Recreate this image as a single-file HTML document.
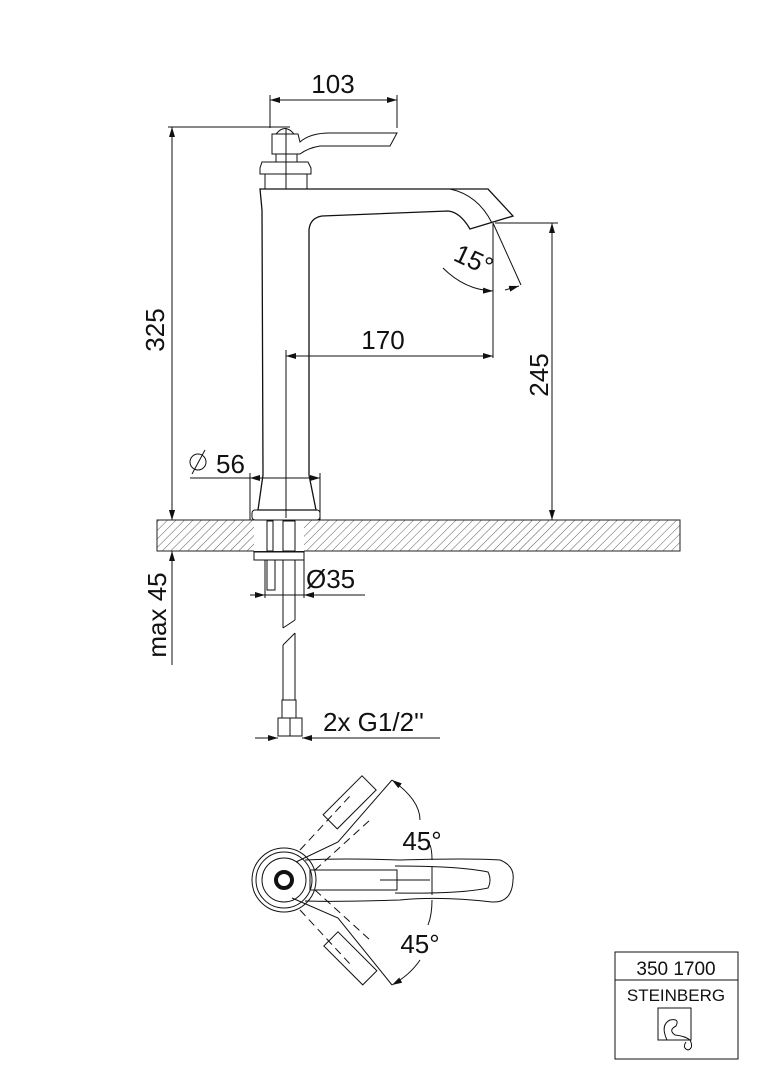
<!DOCTYPE html>
<html><head><meta charset="utf-8"><style>
html,body{margin:0;padding:0;background:#fff}
svg{display:block}
text{font-family:"Liberation Sans",sans-serif;fill:#111}
</style></head><body>
<svg width="764" height="1080" viewBox="0 0 764 1080" xmlns="http://www.w3.org/2000/svg">
<defs>
<pattern id="h" width="6" height="6" patternUnits="userSpaceOnUse" patternTransform="rotate(45)">
<line x1="0" y1="0" x2="0" y2="6" stroke="#333" stroke-width="0.8"/>
</pattern>
<marker id="a" viewBox="0 0 10 6" refX="10" refY="3" markerWidth="10" markerHeight="6" orient="auto-start-reverse" markerUnits="userSpaceOnUse">
<path d="M0,0 L10,3 L0,6z" fill="#111"/></marker>
</defs>
<g fill="none" stroke="#111" stroke-width="1">
<rect x="157" y="520" width="523" height="31" fill="url(#h)" stroke="#222"/>
<rect x="254" y="520" width="50" height="31" fill="#fff" stroke="none"/>
<line x1="270" y1="100" x2="397" y2="100" marker-start="url(#a)" marker-end="url(#a)"/>
<line x1="270" y1="95" x2="270" y2="128"/><line x1="397" y1="95" x2="397" y2="128"/>
<line x1="168" y1="127" x2="290" y2="127"/>
<line x1="172" y1="127" x2="172" y2="520" marker-start="url(#a)" marker-end="url(#a)"/>
<line x1="172" y1="500" x2="172" y2="520" marker-end="url(#a)"/>
<line x1="172" y1="571" x2="172" y2="551" marker-end="url(#a)"/>
<line x1="172" y1="551" x2="172" y2="665"/>
<path d="M276,134 Q285,123 294,134 Z"/>
<path d="M272,134 H298 L300,142 Q310,133 330,133 H397 L390,146 H320 Q308,148 300,154 H272 Z"/>
<rect x="276" y="154" width="21" height="8"/>
<path d="M262,162 H308 L311,168 V174 H260 V168 Z"/>
<rect x="265" y="174" width="42" height="15"/>
<line x1="286" y1="128" x2="286" y2="189"/>
<path d="M260,189 H488 L513,216 L470,229 Q460,212 448,211 L322,216 Q310,218 309,230 V475 L316,510 H258 L263,475 Q262,330 262,210 Z" stroke-width="1.3"/>
<path d="M450,189 Q478,195 492,223"/>
<rect x="252" y="510" width="68" height="10" rx="3"/>
<line x1="493" y1="223" x2="493" y2="358"/>
<line x1="493" y1="223" x2="521" y2="285"/>
<path d="M443,268 Q465,290 493,291" marker-end="url(#a)"/>
<path d="M505,290 L519,286" marker-end="url(#a)"/>
<line x1="286" y1="350" x2="286" y2="518"/>
<line x1="286" y1="356" x2="493" y2="356" marker-start="url(#a)" marker-end="url(#a)"/>
<line x1="495" y1="223" x2="558" y2="223"/>
<line x1="552" y1="223" x2="552" y2="520" marker-start="url(#a)" marker-end="url(#a)"/>
<line x1="190" y1="478" x2="250" y2="478"/>
<line x1="250" y1="478" x2="320" y2="478" marker-start="url(#a)" marker-end="url(#a)"/>
<line x1="250" y1="473" x2="250" y2="520"/><line x1="320" y1="473" x2="320" y2="520"/>
<circle cx="198" cy="462" r="8"/><line x1="192" y1="474" x2="205" y2="450"/>
<rect x="267" y="521" width="6" height="30"/><rect x="283" y="521" width="12" height="30"/>
<rect x="254" y="552" width="50" height="8"/>
<rect x="267" y="560" width="8" height="30"/>
<line x1="283" y1="560" x2="283" y2="628"/><line x1="295" y1="560" x2="295" y2="620"/>
<line x1="283" y1="628" x2="295" y2="620"/>
<line x1="283" y1="645" x2="295" y2="633"/>
<line x1="283" y1="645" x2="283" y2="700"/><line x1="295" y1="633" x2="295" y2="700"/>
<rect x="282" y="700" width="14" height="18"/>
<rect x="278" y="718" width="24" height="18"/>
<line x1="290" y1="718" x2="290" y2="736"/>
<line x1="265" y1="560" x2="265" y2="598"/><line x1="304" y1="560" x2="304" y2="598"/>
<line x1="265" y1="595" x2="365" y2="595"/>
<line x1="250" y1="595" x2="265" y2="595" marker-end="url(#a)"/>
<line x1="318" y1="595" x2="304" y2="595" marker-end="url(#a)"/>
<line x1="255" y1="738" x2="278" y2="738" marker-end="url(#a)"/>
<line x1="330" y1="738" x2="302" y2="738" marker-end="url(#a)"/>
<line x1="302" y1="738" x2="440" y2="738"/>
<circle cx="284" cy="880" r="32"/><circle cx="284" cy="880" r="28"/><circle cx="284" cy="880" r="22"/>
<circle cx="284" cy="880" r="8" stroke-width="4"/>
<path d="M305,860 Q340,858 400,860 Q470,858 500,860 Q515,866 513,880 Q512,903 492,902 Q440,896 400,900 Q340,902 305,901"/>
<path d="M395,866 Q460,866 488,872 Q492,880 488,888 Q460,894 395,893"/>
<rect x="310" y="870" width="87" height="20"/>
<line x1="380" y1="880" x2="430" y2="880"/>
<line x1="432" y1="866" x2="432" y2="895"/>
<path d="M296,862 L338,842 L392,780"/>
<path d="M292,898 L338,918 L392,985"/>
<path d="M300,850 L350,796 M315,870 L370,820" stroke-dasharray="8,5"/>
<path d="M300,910 L350,964 M315,890 L370,940" stroke-dasharray="8,5"/>
<rect x="340" y="775" width="20" height="55" transform="rotate(45 350 802)"/>
<rect x="340" y="931" width="20" height="55" transform="rotate(-45 350 958)"/>
<path d="M392,780 Q420,800 420,820" marker-start="url(#a)"/>
<path d="M432,860 Q432,850 430,845"/>
<path d="M420,960 Q410,975 392,985" marker-end="url(#a)"/>
<path d="M432,900 Q432,915 428,925"/>
<rect x="615" y="952" width="123" height="107"/>
<line x1="615" y1="980" x2="738" y2="980"/>
<rect x="658" y="1008" width="33" height="32"/>
<path d="M667,1040 Q660,1025 670,1020 Q680,1018 676,1026 Q668,1030 675,1035 Q685,1036 690,1040 Q694,1048 688,1050 Q682,1048 686,1042"/>
</g>
<text x="333" y="93" font-size="26" text-anchor="middle">103</text>
<text transform="translate(164,330) rotate(-90)" font-size="26" text-anchor="middle">325</text>
<text x="383" y="349" font-size="26" text-anchor="middle">170</text>
<text transform="translate(548,375) rotate(-90)" font-size="26" text-anchor="middle">245</text>
<text transform="translate(470,268) rotate(25)" font-size="26" text-anchor="middle">15°</text>
<text x="216" y="473" font-size="26">56</text>
<text x="306" y="588" font-size="26">Ø35</text>
<text transform="translate(166,615) rotate(-90)" font-size="26" text-anchor="middle">max 45</text>
<text x="323" y="731" font-size="26">2x G1/2''</text>
<text x="422" y="850" font-size="26" text-anchor="middle">45°</text>
<text x="420" y="953" font-size="26" text-anchor="middle">45°</text>
<text x="676" y="975" font-size="19" text-anchor="middle">350 1700</text>
<text x="676" y="1001" font-size="17" text-anchor="middle" fill="#333">STEINBERG</text>
</svg>
</body></html>
